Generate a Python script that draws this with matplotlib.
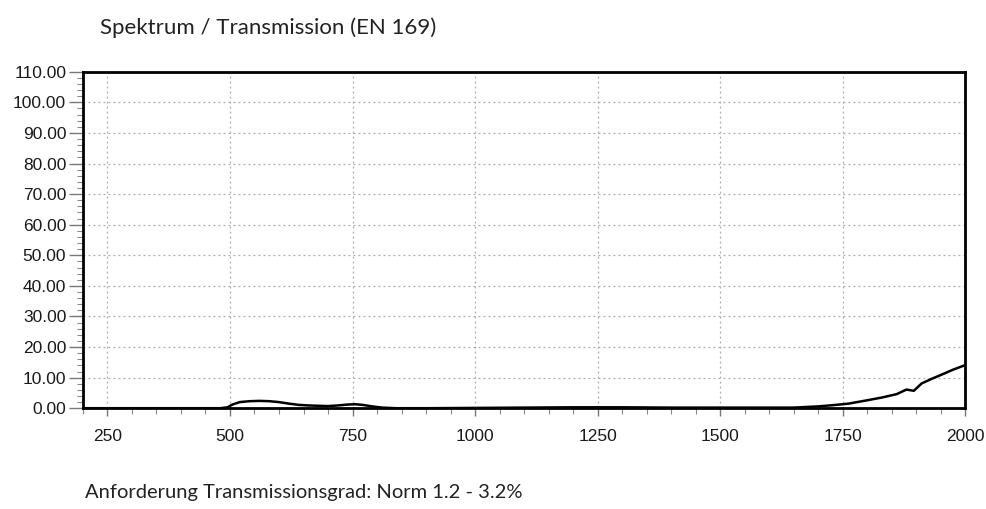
import numpy as np
import matplotlib
matplotlib.use("Agg")
import matplotlib.pyplot as plt
from matplotlib.ticker import MultipleLocator, FormatStrFormatter

# wavelength (nm) and transmission (%)
wavelength = [200, 300, 400, 480, 495, 505, 520, 540, 560, 580, 600, 620, 640, 660,
              680, 700, 720, 740, 755, 770, 790, 810, 840, 900, 1000, 1100, 1200,
              1300, 1400, 1500, 1600, 1650, 1700, 1730, 1762, 1800, 1830, 1860,
              1880, 1895, 1911, 1930, 1952, 1975, 2000]
transmission = [0.0, 0.0, 0.0, 0.0, 0.3, 1.2, 2.0, 2.3, 2.4, 2.3, 2.0, 1.5, 1.1, 0.9,
                0.8, 0.7, 0.9, 1.2, 1.3, 1.1, 0.6, 0.2, 0.0, 0.0, 0.1, 0.2, 0.3,
                0.3, 0.2, 0.2, 0.2, 0.2, 0.6, 1.0, 1.5, 2.6, 3.5, 4.6,
                6.1, 5.7, 8.1, 9.5, 11.0, 12.6, 14.1]

title = "Spektrum / Transmission (EN 169)"
footer = "Anforderung Transmissionsgrad: Norm 1.2 - 3.2%"

fig = plt.figure(figsize=(9.87, 5.09), dpi=100)
ax = fig.add_axes([0.084, 0.198, 0.894, 0.661])

ax.plot(wavelength, transmission, color="black", lw=1.8)

ax.set_xlim(200, 2000)
ax.set_ylim(0, 110)
ax.xaxis.set_major_locator(MultipleLocator(250))
ax.xaxis.set_minor_locator(MultipleLocator(50))
ax.yaxis.set_major_locator(MultipleLocator(10))
ax.yaxis.set_minor_locator(MultipleLocator(2))
ax.yaxis.set_major_formatter(FormatStrFormatter("%.2f"))
ax.set_xticks(np.arange(250, 2001, 250))

ax.grid(True, which="major", color="#aaaaaa", ls=(0, (1.5, 2.5)), lw=0.9)

for s in ax.spines.values():
    s.set_linewidth(2)
    s.set_color("black")

ax.tick_params(axis="y", which="major", length=10, width=1, color="#777777",
               labelsize=12.5, pad=2)
ax.tick_params(axis="y", which="minor", length=4, width=0.8, color="#888888")
ax.tick_params(axis="x", which="major", length=6, width=1, color="#777777",
               labelsize=12.5, pad=9)
ax.tick_params(axis="x", which="minor", length=4, width=0.8, color="#888888")
for lab in ax.get_xticklabels() + ax.get_yticklabels():
    lab.set_family("Liberation Sans")
    lab.set_color("#1a1a1a")

fig.text(0.101, 0.945, title, fontsize=16, family="Lato", color="#222222",
         va="center", ha="left")
fig.text(0.086, 0.033, footer, fontsize=14.5, family="Lato", color="#222222",
         va="center", ha="left")

fig.savefig("out.png", dpi=100)
